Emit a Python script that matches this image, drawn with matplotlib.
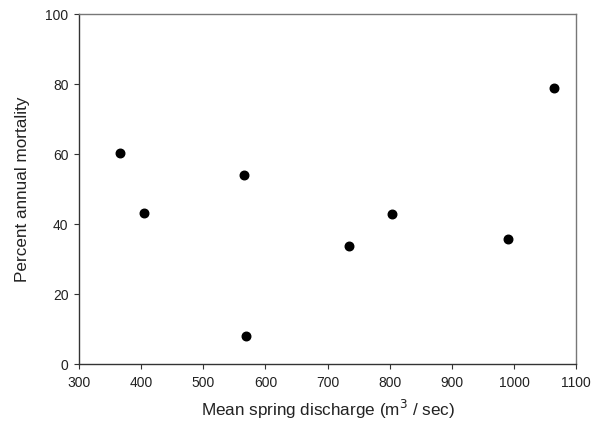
import matplotlib
matplotlib.use("Agg")
import matplotlib.pyplot as plt

# values
discharge = [366, 404, 566, 569, 735, 804, 991, 1065]
mortality = [60.2, 43.2, 54.0, 8.0, 33.8, 43.0, 35.6, 78.8]

x_ticks = [300, 400, 500, 600, 700, 800, 900, 1000, 1100]
y_ticks = [0, 20, 40, 60, 80, 100]

plt.rcParams['font.family'] = ['Liberation Sans', 'DejaVu Sans']

fig = plt.figure(figsize=(5.94, 4.26), dpi=100)
ax = fig.add_axes([0.133, 0.1455, 0.837, 0.8215])

ax.scatter(discharge, mortality, s=38, color='black', zorder=3)

ax.set_xlim(300, 1100)
ax.set_ylim(0, 100)
ax.set_xticks(x_ticks)
ax.set_yticks(y_ticks)
ax.tick_params(direction='out', length=3.5, width=0.8, labelsize=10,
               colors='#333333', labelcolor='#222222')
ax.tick_params(axis='x', pad=5)
ax.tick_params(axis='y', pad=4)

for side in ['left', 'bottom']:
    ax.spines[side].set_color('#333333')
    ax.spines[side].set_linewidth(1.0)
for side in ['top', 'right']:
    ax.spines[side].set_color('#777777')
    ax.spines[side].set_linewidth(1.0)

ax.set_xlabel('Mean spring discharge (m$^3$ / sec)', fontsize=12.3,
              color='#222222', labelpad=6)
ax.set_ylabel('Percent annual mortality', fontsize=12.3, color='#222222',
              labelpad=11)

fig.savefig('out.png', dpi=100)
